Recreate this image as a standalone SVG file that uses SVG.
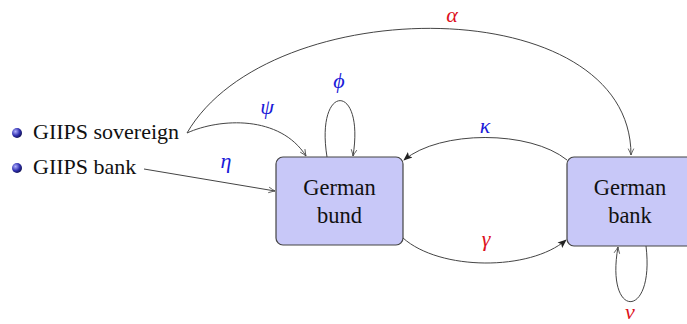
<svg xmlns="http://www.w3.org/2000/svg" width="687" height="324" viewBox="0 0 687 324">
<defs>
<radialGradient id="ball" cx="0.35" cy="0.35" r="0.7">
<stop offset="0" stop-color="#b0b0ff"/>
<stop offset="0.6" stop-color="#3030b0"/>
<stop offset="1" stop-color="#101050"/>
</radialGradient>
<marker id="open" viewBox="0 0 10 10" refX="9" refY="5" markerWidth="8" markerHeight="8" markerUnits="userSpaceOnUse" orient="auto">
<path d="M1,1.5 Q6,4 9,5 Q6,6 1,8.5" fill="none" stroke="#444" stroke-width="1"/>
</marker>
<marker id="solid" viewBox="0 0 10 10" refX="9" refY="5" markerWidth="9" markerHeight="9" markerUnits="userSpaceOnUse" orient="auto">
<path d="M0,1 L10,5 L0,9 L2,5 Z" fill="#222"/>
</marker>
</defs>
<style>
.box{fill:#c8c8f8;stroke:#444;stroke-width:1.2}
.lbl{font-family:"Liberation Serif","Times New Roman",serif;font-size:22.5px;fill:#111;text-anchor:middle}
.item{font-family:"Liberation Serif","Times New Roman",serif;font-size:22px;fill:#111}
.e{fill:none;stroke:#444;stroke-width:1}
.m{font-family:"Liberation Serif","Times New Roman",serif;font-style:italic;font-size:22px;text-anchor:middle}
.b{fill:#1a1ad8}
.r{fill:#dd1020}
</style>
<g id="giips-sovereign">
<circle cx="17" cy="133" r="5" fill="url(#ball)"/>
<text class="item" x="33" y="139">GIIPS sovereign</text>
</g>
<g id="giips-bank">
<circle cx="17" cy="168" r="5" fill="url(#ball)"/>
<text class="item" x="33" y="174">GIIPS bank</text>
</g>
<g id="german-bund">
<rect class="box" x="276" y="157" width="127" height="88" rx="7"/>
<text class="lbl" x="339.5" y="195">German</text>
<text class="lbl" x="339.5" y="223">bund</text>
</g>
<g id="german-bank">
<rect class="box" x="567" y="157" width="127" height="89" rx="7"/>
<text class="lbl" x="630" y="195">German</text>
<text class="lbl" x="630" y="223">bank</text>
</g>
<g id="connectors">
<path class="e" d="M187,133 C270,-10 631,-10 631,155" marker-end="url(#open)"/>
<path class="e" d="M187,133 C220,118 280,115 306,156" marker-end="url(#open)"/>
<path class="e" d="M144,169 L275,191" marker-end="url(#open)"/>
<path class="e" d="M327,157 C315,82 365,82 353,156" marker-end="url(#open)"/>
<path class="e" d="M567,160 C530,130 440,130 404,160" marker-end="url(#solid)"/>
<path class="e" d="M403,238 C440,271 530,271 566,240" marker-end="url(#solid)"/>
<path class="e" d="M646,246 C655,320 605,320 618,247" marker-end="url(#open)"/>
<text class="m r" x="452" y="22">α</text>
<text class="m b" x="267" y="114">ψ</text>
<text class="m b" x="339" y="88">ϕ</text>
<text class="m b" x="226" y="168">η</text>
<text class="m b" x="485" y="133">κ</text>
<text class="m r" x="486" y="246">γ</text>
<text class="m r" x="630" y="319">ν</text>
</g>
</svg>
